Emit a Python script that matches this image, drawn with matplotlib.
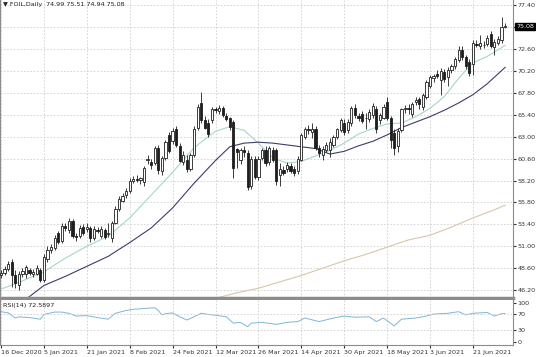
import matplotlib

matplotlib.use('Agg')
import matplotlib.pyplot as plt
import numpy as np

# daily bars, 16 Dec 2020 .. 30 Jun 2021
opens = [47.9, 48.1, 48.5, 49.3, 47.8, 46.7, 48.0, 48.0, 48.4, 48.0,
         48.0, 48.4, 47.3, 49.6, 50.6, 50.8, 52.4, 51.6, 53.2, 52.8,
         53.8, 52.1, 52.1, 53.1, 52.9, 53.0, 51.9, 52.8, 52.1, 52.8,
         52.3, 51.9, 53.6, 55.1, 56.0, 56.6, 57.0, 58.2, 58.4, 58.3,
         58.0, 60.4, 60.2, 60.1, 61.8, 59.2, 60.7, 63.2, 62.5, 63.8,
         62.0, 60.2, 60.5, 59.5, 61.0, 64.0, 66.7, 64.8, 64.5, 64.8,
         66.0, 65.8, 66.1, 65.3, 65.0, 64.6, 61.7, 60.4, 61.5, 61.2,
         57.6, 60.6, 58.6, 60.7, 61.6, 60.2, 61.5, 61.5, 58.8, 59.3,
         59.5, 59.8, 59.5, 59.2, 60.5, 63.0, 63.9, 63.5, 63.9, 61.8,
         61.0, 61.6, 61.6, 62.1, 63.0, 63.7, 64.5, 63.7, 64.5, 66.2,
         65.3, 65.5, 65.0, 64.9, 65.4, 66.0, 64.8, 65.1, 66.8, 65.0,
         63.4, 62.0, 63.7, 66.0, 66.1, 65.5, 66.8, 67.1, 66.3, 67.4,
         68.6, 69.4, 69.9, 69.2, 70.1, 69.5, 70.3, 70.7, 71.4, 72.5,
         71.7, 71.2, 71.0, 73.2, 72.9, 73.1, 73.2, 74.3, 72.8, 73.3,
         73.6, 74.99]
highs = [48.4, 48.8, 49.4, 49.6, 48.4, 48.3, 48.6, 49.0, 48.6, 48.5,
         48.9, 48.6, 50.2, 51.0, 51.3, 52.2, 52.7, 53.5, 53.6, 54.1,
         54.0, 52.4, 53.3, 53.4, 53.6, 53.2, 53.2, 53.1, 53.2, 53.0,
         53.5, 53.8, 55.4, 56.5, 56.8, 57.4, 58.5, 58.7, 58.8, 58.6,
         59.8, 61.0, 60.6, 62.0, 62.1, 60.9, 62.6, 63.5, 64.0, 64.2,
         62.3, 61.4, 61.0, 61.2, 64.2, 66.6, 67.9, 65.3, 64.9, 66.3,
         66.3, 66.5, 66.4, 65.6, 65.2, 64.8, 61.8, 61.8, 62.0, 61.5,
         60.9, 60.9, 60.9, 61.8, 62.0, 62.0, 61.9, 61.8, 60.1, 59.8,
         60.2, 60.1, 59.8, 60.9, 63.4, 64.1, 64.3, 64.5, 64.2, 62.1,
         62.0, 62.4, 62.9, 63.2, 64.0, 65.0, 64.9, 64.9, 66.4, 66.6,
         65.6, 65.8, 65.6, 66.0, 66.7, 66.4, 65.6, 66.6, 67.3, 65.3,
         63.8, 64.0, 66.2, 66.5, 66.6, 66.8, 67.3, 67.4, 67.8, 69.2,
         69.8, 69.9, 70.3, 70.5, 70.4, 70.6, 71.0, 71.7, 72.9, 72.9,
         72.0, 71.5, 73.6, 73.6, 74.2, 73.5, 74.2, 74.6, 73.7, 74.0,
         76.1, 75.51]
lows = [47.5, 47.9, 48.3, 46.5, 46.4, 46.2, 47.6, 47.5, 47.8, 47.6,
        47.8, 47.1, 47.1, 49.3, 50.3, 50.6, 51.2, 51.4, 52.7, 52.5,
        51.9, 51.6, 51.9, 52.2, 52.6, 51.5, 51.7, 52.4, 51.9, 51.8,
        52.0, 51.5, 53.4, 54.9, 55.8, 56.3, 56.8, 57.9, 58.0, 57.8,
        57.6, 60.0, 59.5, 59.9, 58.9, 58.8, 60.4, 61.2, 62.2, 61.9,
        60.2, 59.9, 59.1, 59.2, 60.8, 63.7, 64.5, 63.8, 63.0, 64.5,
        65.6, 65.5, 65.2, 64.7, 63.7, 58.5, 59.6, 60.0, 60.8, 57.2,
        57.3, 58.4, 58.3, 60.4, 59.8, 59.9, 60.2, 57.7, 57.6, 58.8,
        59.1, 59.0, 58.7, 58.9, 60.3, 62.7, 63.3, 62.9, 61.5, 60.8,
        60.5, 61.3, 60.8, 61.9, 62.7, 63.5, 63.2, 63.4, 64.2, 65.1,
        64.7, 64.5, 63.9, 64.6, 65.1, 63.4, 64.4, 64.9, 64.8, 61.8,
        61.0, 61.3, 63.5, 65.6, 65.5, 65.2, 66.5, 66.0, 65.9, 67.1,
        68.3, 69.0, 69.4, 67.6, 69.0, 68.6, 70.0, 70.4, 71.2, 71.4,
        70.4, 69.6, 69.8, 72.8, 72.6, 72.7, 72.9, 72.7, 72.0, 73.0,
        73.3, 74.94]
closes = [48.1, 48.5, 49.1, 47.8, 47.0, 48.0, 48.3, 48.7, 48.1, 48.2,
          48.6, 47.3, 49.8, 50.6, 50.9, 51.9, 51.5, 53.2, 53.0, 53.8,
          52.1, 52.0, 53.0, 52.4, 53.1, 51.9, 52.9, 52.7, 52.9, 52.0,
          52.5, 53.6, 55.1, 56.2, 56.5, 57.1, 58.2, 58.4, 58.3, 58.5,
          59.6, 60.6, 59.9, 61.8, 59.3, 60.7, 62.4, 61.4, 63.6, 62.1,
          60.3, 61.0, 59.5, 61.0, 63.9, 66.3, 64.8, 64.0, 63.3, 66.0,
          65.9, 66.1, 65.4, 64.9, 64.1, 59.6, 61.3, 61.6, 61.3, 57.5,
          60.6, 58.6, 60.6, 61.6, 60.1, 61.8, 60.5, 58.2, 59.5, 59.0,
          59.9, 59.2, 59.0, 60.6, 63.2, 63.8, 63.7, 63.9, 61.8, 61.2,
          61.7, 62.1, 62.4, 63.0, 63.8, 64.8, 63.5, 64.6, 66.1, 65.4,
          65.0, 64.7, 65.1, 65.7, 66.4, 63.8, 65.4, 66.3, 65.0, 62.6,
          61.8, 63.6, 66.0, 66.2, 66.0, 66.6, 67.0, 66.6, 67.6, 69.0,
          69.5, 69.6, 69.6, 70.2, 69.3, 70.3, 70.7, 71.5, 72.5, 71.7,
          70.7, 70.0, 73.3, 73.0, 73.3, 73.0, 73.8, 72.9, 73.4, 73.7,
          75.0, 75.08]

# moving averages, sampled at bar numbers
ma_fast_idx = [0, 6, 12, 18, 24, 30, 36, 42, 48, 54, 60, 64, 68, 72, 76, 80,
               84, 88, 92, 96, 100, 104, 108, 112, 116, 120, 124, 128, 132, 136, 141]
ma_fast = [46.3, 47.2, 48.2, 49.7, 51.0, 52.1, 54.1, 56.6, 59.1, 61.8, 63.6, 64.1,
           63.7, 62.3, 60.7, 60.1, 60.3, 60.9, 61.5, 62.3, 63.3, 63.9, 64.4, 64.5,
           65.2, 66.1, 67.4, 69.4, 71.1, 71.8, 73.0]
ma_mid_idx = [7, 12, 18, 24, 30, 36, 42, 48, 54, 60, 64, 68, 72, 76, 80, 84,
              88, 92, 96, 100, 104, 108, 112, 116, 120, 124, 128, 132, 136, 141]
ma_mid = [45.2, 46.7, 47.7, 48.8, 49.9, 51.4, 53.0, 55.2, 57.9, 60.4, 61.9, 62.3,
          62.4, 62.3, 62.1, 61.9, 61.7, 61.1, 61.4, 62.0, 62.5, 63.2, 64.0, 64.6,
          65.2, 65.9, 66.7, 67.6, 68.8, 70.6]
ma_slow_idx = [60, 66, 72, 78, 84, 90, 96, 102, 108, 114, 120, 126, 132, 138, 141]
ma_slow = [45.3, 45.9, 46.4, 47.1, 47.8, 48.6, 49.4, 50.1, 50.9, 51.7, 52.2,
           53.1, 54.1, 55.0, 55.5]

rsi_idx = [0, 2, 4, 5, 8, 11, 12, 15, 17, 19, 21, 24, 27, 30, 32, 35, 37, 40, 43, 44,
           45, 46, 48, 50, 52, 54, 56, 58, 60, 63, 65, 67, 69, 70, 73, 77, 80, 83, 85, 89,
           93, 96, 99, 103, 105, 107, 110, 112, 116, 119, 121, 125, 128, 130, 132, 136,
           138, 140, 141]
rsi = [77, 74, 61, 64, 62, 58, 70, 76, 76, 73, 66, 67, 62, 58, 73, 80, 83, 85, 87, 80,
       69, 72, 74, 64, 56, 64, 73, 70, 68, 64, 48, 50, 39, 48, 50, 45, 50, 52, 61, 52,
       61, 66, 63, 64, 52, 61, 41, 58, 61, 66, 71, 73, 77, 69, 73, 75, 66, 72, 72.6]

date_labels = ['16 Dec 2020', '5 Jan 2021', '21 Jan 2021', '8 Feb 2021', '24 Feb 2021',
               '12 Mar 2021', '26 Mar 2021', '14 Apr 2021', '30 Apr 2021', '18 May 2021',
               '3 Jun 2021', '21 Jun 2021']
price_ticks = [46.2, 48.6, 51.0, 53.4, 55.8, 58.2, 60.6, 63.0, 65.4, 67.8, 70.2, 72.6, 75.0, 77.4]

FS = 4.6
grid_kw = dict(color='#cfcfcf', linestyle=(0, (2, 2)), linewidth=0.6)

fig = plt.figure(figsize=(5.36, 3.57), dpi=100)
ax = fig.add_axes([0, 0.165, 0.957, 0.835])
ax_rsi = fig.add_axes([0, 0.034, 0.957, 0.126], sharex=ax)

x = np.arange(len(closes))
o = np.array(opens)
c = np.array(closes)
up = c >= o

# candles
ax.vlines(x, lows, highs, color='#1e1e1e', linewidth=0.6, zorder=3)
ax.bar(x[up], (c - o)[up], bottom=o[up], width=0.62, color='white',
       edgecolor='#1e1e1e', linewidth=0.6, zorder=4)
ax.bar(x[~up], (c - o)[~up], bottom=o[~up], width=0.62, color='#1e1e1e',
       edgecolor='#1e1e1e', linewidth=0.6, zorder=4)

# moving averages
ax.plot(ma_fast_idx, ma_fast, color='#a6d5c9', linewidth=0.8, zorder=2)
ax.plot(ma_mid_idx, ma_mid, color='#3d3d6b', linewidth=0.8, zorder=2)
ax.plot(ma_slow_idx, ma_slow, color='#d8c6ab', linewidth=0.8, zorder=2)

ax.set_xlim(-0.28, 143.2)
ax.set_ylim(45.32, 77.98)
ax.set_yticks(price_ticks)
ax.set_yticklabels([f'{v:.2f}' for v in price_ticks])
ax.yaxis.tick_right()
ax.tick_params(axis='y', labelsize=FS, length=2, pad=1.2, colors='#333333')
ax.tick_params(axis='x', labelbottom=False, length=0)
ax.set_xticks(np.arange(0, 133, 12))
ax.grid(True, **grid_kw)
ax.set_axisbelow(True)

ax.spines['top'].set_visible(False)
ax.spines['bottom'].set_color('#8c8c8c')
ax.spines['bottom'].set_linewidth(2.5)
ax.spines['right'].set_color('#8c8c8c')
ax.spines['left'].set_color('#8c8c8c')

ax.text(0.006, 0.993, '\u25bc FOIL,Daily  74.99 75.51 74.94 75.08', transform=ax.transAxes,
        fontsize=FS, va='top', ha='left', color='#222222')

# last price box, covers the 75.00 tick label
ax.text(1.006, closes[-1], f'{closes[-1]:.2f}', transform=ax.get_yaxis_transform(),
        fontsize=FS, color='white', va='center', ha='left', zorder=10,
        bbox=dict(facecolor='black', edgecolor='black', pad=0.6), clip_on=False)

# RSI panel
ax_rsi.plot(rsi_idx, rsi, color='#7fb6d6', linewidth=0.7)
ax_rsi.set_ylim(-6.8, 106.8)
ax_rsi.set_yticks([0, 30, 70, 100])
ax_rsi.yaxis.tick_right()
ax_rsi.tick_params(axis='y', labelsize=FS, length=2, pad=1.2, colors='#333333')
ax_rsi.set_xticks(np.arange(0, 133, 12))
ax_rsi.set_xticklabels(date_labels)
ax_rsi.tick_params(axis='x', labelsize=FS, length=2, pad=1.5, colors='#333333')
for lbl in ax_rsi.get_xticklabels():
    lbl.set_horizontalalignment('left')
ax_rsi.grid(True, axis='x', **grid_kw)
for lvl in [30, 70]:
    ax_rsi.axhline(lvl, **grid_kw)
ax_rsi.spines['top'].set_visible(False)
for side in ['bottom', 'right', 'left']:
    ax_rsi.spines[side].set_color('#8c8c8c')
ax_rsi.text(0.006, 0.93, 'RSI(14) 72.5897', transform=ax_rsi.transAxes,
            fontsize=FS, va='top', ha='left', color='#222222')

fig.savefig('out.png', dpi=100)
